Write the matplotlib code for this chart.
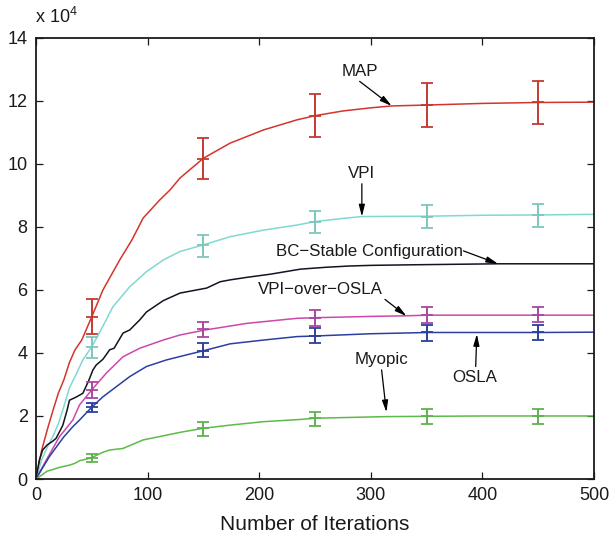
import matplotlib
matplotlib.use("Agg")
import matplotlib.pyplot as plt

plt.rcParams["font.family"] = ["Liberation Sans", "DejaVu Sans"]
plt.rcParams["mathtext.default"] = "regular"

# curve samples (values in units of 1e4)
map_x = [0, 5, 10, 15, 20, 25, 30, 35, 41, 50, 60, 75, 86, 96, 111, 120, 129, 150, 174, 204, 234, 250, 275, 300, 319, 352, 400, 451, 500]
map_y = [0, 0.9, 1.55, 2.15, 2.72, 3.15, 3.7, 4.1, 4.41, 5.15, 6.0, 6.95, 7.59, 8.28, 8.86, 9.17, 9.55, 10.18, 10.66, 11.08, 11.4, 11.53, 11.68, 11.78, 11.84, 11.87, 11.92, 11.95, 11.96]

vpi_x = [0, 5, 10, 15, 20, 25, 30, 35, 42, 50, 60, 69, 84, 99, 114, 129, 150, 174, 204, 234, 250, 275, 292, 350, 400, 450, 500]
vpi_y = [0, 0.6, 1.0, 1.34, 1.75, 2.3, 2.9, 3.25, 3.78, 4.2, 4.85, 5.47, 6.1, 6.58, 6.95, 7.22, 7.43, 7.69, 7.9, 8.06, 8.17, 8.27, 8.33, 8.34, 8.37, 8.38, 8.4]

bc_x = [0, 3, 6, 10, 15, 18, 24, 28, 30, 36, 42, 47, 51, 54, 60, 66, 70, 78, 84, 93, 99, 114, 129, 144, 153, 165, 174, 189, 210, 237, 260, 281, 300, 341, 414, 450, 500]
bc_y = [0, 0.6, 0.92, 1.08, 1.2, 1.29, 1.7, 2.2, 2.5, 2.6, 2.72, 3.1, 3.46, 3.62, 3.8, 4.1, 4.15, 4.63, 4.73, 5.05, 5.3, 5.66, 5.9, 6.0, 6.06, 6.26, 6.32, 6.4, 6.5, 6.66, 6.72, 6.76, 6.78, 6.8, 6.83, 6.83, 6.83]

vo_x = [0, 10, 21, 33, 39, 50, 63, 78, 93, 114, 129, 150, 189, 234, 251, 300, 332, 352, 400, 452, 500]
vo_y = [0, 0.65, 1.34, 1.87, 2.35, 2.83, 3.36, 3.88, 4.15, 4.41, 4.57, 4.72, 4.94, 5.1, 5.12, 5.16, 5.18, 5.2, 5.2, 5.2, 5.2]

osla_x = [0, 5, 12, 20, 25, 33, 39, 50, 60, 72, 84, 99, 117, 135, 150, 174, 204, 234, 251, 300, 352, 395, 452, 500]
osla_y = [0, 0.3, 0.71, 1.1, 1.34, 1.66, 1.87, 2.28, 2.61, 2.93, 3.25, 3.57, 3.78, 3.94, 4.07, 4.29, 4.41, 4.52, 4.54, 4.61, 4.65, 4.65, 4.65, 4.66]

my_x = [0, 5, 10, 15, 21, 25, 30, 35, 39, 45, 50, 60, 66, 78, 90, 96, 114, 129, 150, 174, 204, 237, 251, 314, 352, 400, 452, 500]
my_y = [0, 0.12, 0.25, 0.3, 0.37, 0.4, 0.44, 0.5, 0.58, 0.63, 0.68, 0.85, 0.92, 0.97, 1.15, 1.24, 1.37, 1.48, 1.61, 1.71, 1.82, 1.89, 1.93, 1.98, 1.99, 2.0, 2.0, 2.0]

# error bars
err_x = [50, 150, 250, 350, 450]
map_c = [5.15, 10.15, 11.53, 11.87, 11.95]
map_lo = [4.6, 9.51, 10.85, 11.18, 11.26]
map_hi = [5.71, 10.82, 12.23, 12.56, 12.64]
vpi_c = [4.2, 7.43, 8.17, 8.33, 8.38]
vpi_lo = [3.85, 7.06, 7.8, 7.98, 8.01]
vpi_hi = [4.5, 7.75, 8.49, 8.68, 8.73]
vo_c = [2.83, 4.75, 5.12, 5.2, 5.2]
vo_lo = [2.58, 4.52, 4.84, 4.94, 4.97]
vo_hi = [3.07, 4.99, 5.37, 5.45, 5.47]
osla_c = [2.28, 4.07, 4.54, 4.65, 4.65]
osla_lo = [2.14, 3.88, 4.31, 4.39, 4.42]
osla_hi = [2.42, 4.31, 4.78, 4.89, 4.89]
my_c = [0.68, 1.61, 1.93, 1.99, 2.0]
my_lo = [0.53, 1.37, 1.68, 1.75, 1.76]
my_hi = [0.79, 1.82, 2.14, 2.21, 2.21]

fig = plt.figure(figsize=(6.13, 5.41), dpi=100)
ax = fig.add_axes([0.0587, 0.1146, 0.9103, 0.8154])


def draw(xs, ys, color, ecolor=None, c=None, lo=None, hi=None):
    ax.plot(xs, ys, color=color, linewidth=1.1)
    if c is None:
        return
    yerr = [[m - l for m, l in zip(c, lo)], [h - m for m, h in zip(c, hi)]]
    ax.errorbar(err_x, c, yerr=yerr, fmt="_", color=ecolor, ecolor=ecolor,
                markersize=8, markeredgewidth=1.3, elinewidth=1.4,
                capsize=4.5, capthick=1.4)


draw(map_x, map_y, "#d3352b", "#c43a30", map_c, map_lo, map_hi)
draw(vpi_x, vpi_y, "#7fd9d2", "#7ec6bd", vpi_c, vpi_lo, vpi_hi)
draw(bc_x, bc_y, "#111522")
draw(vo_x, vo_y, "#cc48ab", "#a8489e", vo_c, vo_lo, vo_hi)
draw(osla_x, osla_y, "#2c3f9f", "#2c3f9f", osla_c, osla_lo, osla_hi)
draw(my_x, my_y, "#5cbb48", "#5fb251", my_c, my_lo, my_hi)

arrow = dict(arrowstyle="-|>,head_length=0.7,head_width=0.18", color="black",
             lw=0.9, shrinkA=0, shrinkB=0)
notes = [
    ("MAP", (318.7, 11.84), (290, 12.92), (290, 12.62)),
    ("VPI", (292, 8.33), (292, 9.71), (292, 9.37)),
    ("BC\u2212Stable Configuration", (414, 6.83), (299, 7.22), (383, 7.24)),
    ("VPI\u2212over\u2212OSLA", (332, 5.17), (255, 6.0), (312.7, 5.7)),
    ("Myopic", (314, 2.12), (309.7, 3.78), (309.7, 3.46)),
    ("OSLA", (395, 4.6), (393, 3.22), (394, 3.57)),
]
for label, tip, txt, start in notes:
    ax.text(txt[0], txt[1], label, ha="center", va="center", fontsize=12.2,
            color="#1a1a1a")
    ax.annotate("", xy=tip, xytext=start, arrowprops=arrow)

ax.set_xlim(0, 500)
ax.set_ylim(0, 14)
ax.set_xticks(range(0, 501, 100))
ax.set_yticks(range(0, 15, 2))
ax.tick_params(direction="in", length=5, width=0.9, top=True, right=True,
               labelsize=13, colors="#1a1a1a", pad=6)
for s in ax.spines.values():
    s.set_linewidth(1.3)
    s.set_color("#1a1a1a")
ax.set_xlabel("Number of Iterations", fontsize=15, labelpad=8, color="#1a1a1a")
fig.text(0.057, 0.968, r"x 10$^4$", fontsize=13, ha="left", va="center",
         color="#1a1a1a")

fig.savefig("out.png", dpi=100)
plt.close(fig)
